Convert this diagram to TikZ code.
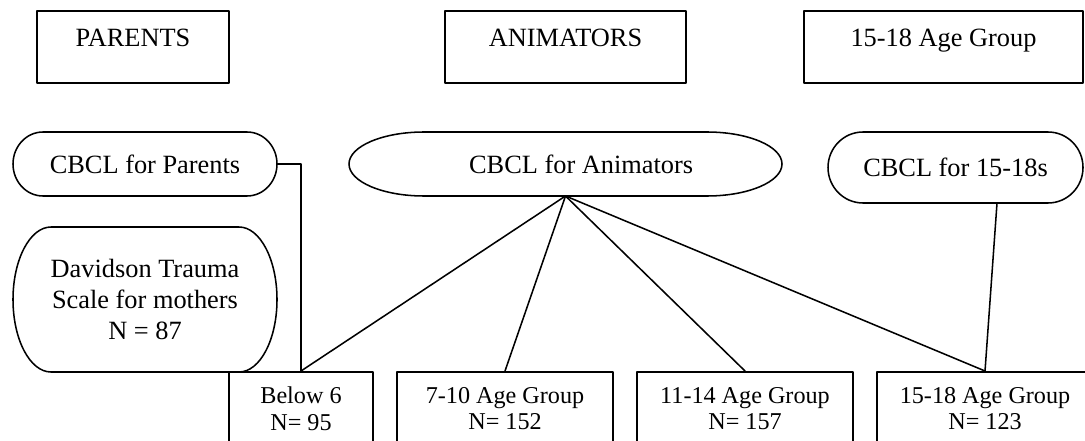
\documentclass[tikz,border=0pt]{standalone}
\usepackage{fontspec}
\setmainfont{Liberation Serif}
\usepackage{tikz}
\newcommand{\drawpill}[3]{%
\draw ([xshift=#2]#1.north west) -- ([xshift=-#2]#1.north east) arc[start angle=90,end angle=-90,x radius=#2,y radius=#3] -- ([xshift=#2]#1.south west) arc[start angle=270,end angle=90,x radius=#2,y radius=#3] -- cycle;}
\begin{document}
\begin{tikzpicture}[line cap=round,line join=round,x=1.0cm,y=1.0cm,line width=0.7pt,
  topbox/.style={draw,line width=0.8pt,inner sep=0pt,minimum height=1.152cm,text height=0.576cm,text depth=0.576cm,font=\fontsize{12}{14}\selectfont},
  pill/.style={inner sep=0pt,outer sep=0pt,align=center,font=\fontsize{12}{13.9}\selectfont},
  agebox/.style={draw,anchor=north,inner xsep=0pt,inner ysep=7pt,minimum width=3.456cm,align=center,font=\fontsize{11}{12}\selectfont}]
\useasboundingbox (0,0) rectangle (17.36,-7.056);
\clip (0,0) rectangle (17.36,-7.056);
\node[topbox,minimum width=3.072cm] (parents) at (2.128,-0.752) {PARENTS};
\node[topbox,minimum width=3.856cm] (animators) at (9.048,-0.752) {ANIMATORS};
\node[topbox,minimum width=4.464cm] (older) at (15.096,-0.752) {15-18 Age Group};
\node[pill,minimum width=4.224cm,minimum height=1.024cm] (cbclpar) at (2.32,-2.624) {CBCL for Parents};
\node[pill,minimum width=6.928cm,minimum height=1.024cm] (cbclani) at (9.048,-2.624) {\hspace*{0.5cm}CBCL for Animators};
\node[pill,minimum width=4.08cm,minimum height=1.136cm] (cbclold) at (15.288,-2.68) {CBCL for 15-18s};
\node[pill,minimum width=4.224cm,minimum height=2.32cm] (davidson) at (2.32,-4.792) {Davidson Trauma\\Scale for mothers\\N = 87};
\drawpill{cbclpar}{0.48cm}{0.512cm}
\drawpill{cbclani}{1.2cm}{0.512cm}
\drawpill{cbclold}{0.56cm}{0.568cm}
\drawpill{davidson}{0.608cm}{1.16cm}
\node[agebox,minimum width=2.304cm] (below) at (4.816,-5.936) {Below 6\\N= 95};
\node[agebox] (g7) at (8.08,-5.936) {7-10 Age Group\\N= 152};
\node[agebox] (g11) at (11.92,-5.936) {11-14 Age Group\\N= 157};
\node[agebox] (g15) at (15.76,-5.936) {15-18 Age Group\\N= 123};
\draw (cbclpar.east) -| (below.north);
\draw (cbclani.south) -- (below.north);
\draw (cbclani.south) -- (g7.north);
\draw (cbclani.south) -- (g11.north);
\draw (cbclani.south) -- (g15.north);
\draw ([xshift=0.664cm]cbclold.south) -- (g15.north);
\end{tikzpicture}
\end{document}
